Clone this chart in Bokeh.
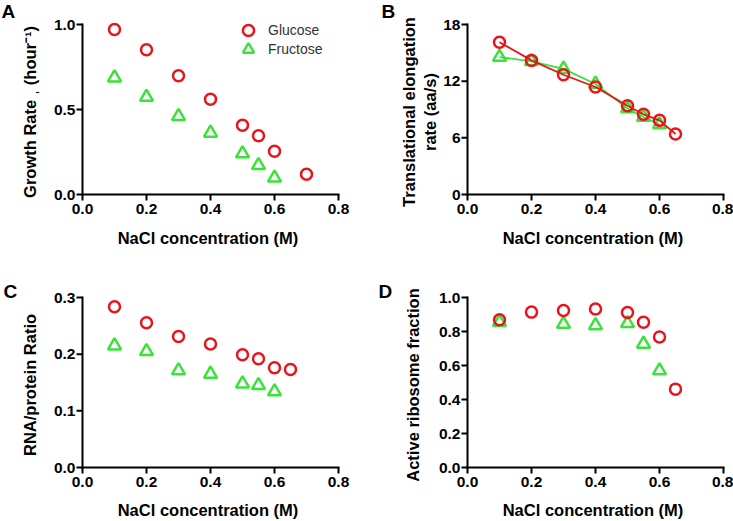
from bokeh.plotting import figure
from bokeh.models import Range1d, FixedTicker, NumeralTickFormatter, Legend, LegendItem
from bokeh.layouts import column, row
from bokeh.embed import file_html
from bokeh.resources import INLINE

# ---------------- data ----------------
conc_glc = [0.1, 0.2, 0.3, 0.4, 0.5, 0.55, 0.6, 0.7]
growth_glc = [0.971, 0.851, 0.699, 0.560, 0.407, 0.346, 0.254, 0.119]
conc_fru = [0.1, 0.2, 0.3, 0.4, 0.5, 0.55, 0.6]
growth_fru = [0.687, 0.573, 0.460, 0.362, 0.241, 0.172, 0.098]

conc_glc_b = [0.1, 0.2, 0.3, 0.4, 0.5, 0.55, 0.6, 0.65]
elong_glc = [16.13, 14.20, 12.68, 11.38, 9.40, 8.49, 7.85, 6.41]
conc_fru_b = [0.1, 0.2, 0.3, 0.4, 0.5, 0.55, 0.6]
elong_fru = [14.55, 14.10, 13.30, 11.70, 9.10, 8.20, 7.40]

conc_glc_c = [0.1, 0.2, 0.3, 0.4, 0.5, 0.55, 0.6, 0.65]
rp_glc = [0.2836, 0.2556, 0.231, 0.218, 0.199, 0.192, 0.176, 0.173]
conc_fru_c = [0.1, 0.2, 0.3, 0.4, 0.5, 0.55, 0.6]
rp_fru = [0.215, 0.205, 0.171, 0.165, 0.148, 0.145, 0.134]

conc_glc_d = [0.1, 0.2, 0.3, 0.4, 0.5, 0.55, 0.6, 0.65]
act_glc = [0.869, 0.914, 0.924, 0.932, 0.912, 0.855, 0.768, 0.461]
conc_fru_d = [0.1, 0.3, 0.4, 0.5, 0.55, 0.6]
act_fru = [0.855, 0.844, 0.836, 0.848, 0.727, 0.570]

x_ticks = [0.0, 0.2, 0.4, 0.6, 0.8]
yticks_a = [0.0, 0.5, 1.0]
yticks_b = [0, 6, 12, 18]
yticks_c = [0.0, 0.1, 0.2, 0.3]
yticks_d = [0.0, 0.2, 0.4, 0.6, 0.8, 1.0]

series_names = ["Glucose", "Fructose"]
panel_letters = ["A", "B", "C", "D"]
x_title = "NaCl concentration (M)"

# ---------------- style ----------------
RED = "#e8141c"
GREEN = "#3ae23a"
FONT = "Liberation Sans"
AX_W = 256          # pixel length of the x axis
AX_H = 170          # pixel length of the y axis
PAD_LB = 7          # frame margin beyond the axis lines (left / bottom)
PAD_TR = 2          # frame margin beyond the axis ends (top / right)
TICK = 6            # tick length, px
HALF = 1            # half of the axis rule thickness, px


def make_fig(width, height, axis_x, axis_top, yticks, yfmt, ylabel,
             y_label_standoff, x_label_standoff, letter, letter_offset, letter_valign,
             letter_standoff):
    xmax = x_ticks[-1]
    ymax = yticks[-1]
    xpx = AX_W / xmax
    ypx = AX_H / ymax
    left = axis_x - PAD_LB
    top = axis_top - PAD_TR
    frame_w = AX_W + PAD_LB + PAD_TR
    frame_h = AX_H + PAD_LB + PAD_TR
    p = figure(width=width, height=height,
               x_range=Range1d(-PAD_LB / xpx, xmax + PAD_TR / xpx),
               y_range=Range1d(-PAD_LB / ypx, ymax + PAD_TR / ypx),
               output_backend="svg", toolbar_location=None, title=letter,
               min_border_left=left, min_border_right=width - left - frame_w,
               min_border_top=top, min_border_bottom=height - top - frame_h)
    p.title.align = "left"
    p.title.offset = letter_offset
    p.title.standoff = letter_standoff
    p.title.vertical_align = letter_valign
    p.title.text_font = FONT
    p.title.text_font_style = "bold"
    p.title.text_font_size = "19px"
    p.title.text_color = "black"
    p.outline_line_color = None
    p.xgrid.grid_line_color = None
    p.ygrid.grid_line_color = None
    p.xaxis.ticker = FixedTicker(ticks=x_ticks)
    p.xaxis.formatter = NumeralTickFormatter(format="0.0")
    p.yaxis.ticker = FixedTicker(ticks=yticks)
    p.yaxis.formatter = NumeralTickFormatter(format=yfmt)
    p.xaxis.axis_label = x_title
    p.yaxis.axis_label = ylabel
    p.axis.axis_line_color = None
    p.axis.major_tick_line_color = None
    p.axis.major_tick_out = 0
    p.axis.major_tick_in = 0
    p.axis.minor_tick_line_color = None
    p.axis.major_label_text_font = FONT
    p.axis.major_label_text_font_style = "bold"
    p.axis.major_label_text_font_size = "15.5px"
    p.axis.major_label_text_color = "black"
    p.axis.axis_label_text_font = FONT
    p.axis.axis_label_text_font_style = "bold"
    p.axis.axis_label_text_font_size = "16.5px"
    p.axis.axis_label_text_color = "black"
    p.xaxis.axis_label_standoff = x_label_standoff
    p.xaxis.major_label_standoff = 2
    p.yaxis.major_label_standoff = 0
    p.yaxis.axis_label_standoff = y_label_standoff

    # axis rules and tick marks as thin filled bars, placed through the plot's own scales
    x0, y0 = x_ticks[0], yticks[0]
    hx, hy = HALF / xpx, HALF / ypx
    p.quad(left=[x0 - hx, x0 - hx], right=[xmax + hx, x0 + hx],
           bottom=[y0 - hy, y0 - hy], top=[y0 + hy, ymax + hy],
           fill_color="black", line_color=None)
    p.quad(left=[t - hx for t in x_ticks], right=[t + hx for t in x_ticks],
           bottom=[y0 - TICK / ypx] * len(x_ticks), top=[y0] * len(x_ticks),
           fill_color="black", line_color=None)
    p.quad(left=[x0 - TICK / xpx] * len(yticks), right=[x0] * len(yticks),
           bottom=[t - hy for t in yticks], top=[t + hy for t in yticks],
           fill_color="black", line_color=None)
    return p


def one_legend(p, label, rend, x, y):
    p.add_layout(Legend(items=[LegendItem(label=label, renderers=[rend])],
                        location=(x, y), padding=0, margin=0, spacing=0,
                        glyph_width=28, glyph_height=28, label_height=28, label_standoff=6,
                        label_text_font=FONT, label_text_font_size="14px",
                        label_text_color="#333333",
                        background_fill_alpha=0, border_line_alpha=0))


MS = 11
TS = 13
LW = 2.5

# Panel A
pa = make_fig(366, 260, 82, 24, yticks_a, "0.0",
              "Growth Rate \u02cc (hour\u207b\u00b9)", 12, 12, panel_letters[0], -74, "top", -2)
ra = pa.scatter(conc_glc, growth_glc, marker="circle", size=MS, fill_color=None,
                line_color=RED, line_width=LW)
fa = pa.scatter(conc_fru, growth_fru, marker="triangle", size=TS, fill_color=None,
                line_color=GREEN, line_width=LW)
one_legend(pa, series_names[0], ra, 159, 157)
one_legend(pa, series_names[1], fa, 159, 138)

# Panel B
pb = make_fig(367, 260, 101, 24, yticks_b, "0",
              "Translational elongation\nrate (aa/s)", 1, 12, panel_letters[1], -79, "top", -2)
pb.line(conc_fru_b, elong_fru, line_color=GREEN, line_width=1.8)
pb.scatter(conc_fru_b, elong_fru, marker="triangle", size=TS, fill_color=None,
           line_color=GREEN, line_width=LW)
pb.line(conc_glc_b, elong_glc, line_color=RED, line_width=1.8)
pb.scatter(conc_glc_b, elong_glc, marker="circle", size=MS, fill_color=None,
           line_color=RED, line_width=LW)

# Panel C
pc = make_fig(366, 261, 82, 37, yticks_c, "0.0",
              "RNA/protein Ratio", 12, 11, panel_letters[2], -72, "bottom", -12)
pc.scatter(conc_glc_c, rp_glc, marker="circle", size=MS, fill_color=None,
           line_color=RED, line_width=LW)
pc.scatter(conc_fru_c, rp_fru, marker="triangle", size=TS, fill_color=None,
           line_color=GREEN, line_width=LW)

# Panel D
pd = make_fig(367, 261, 101, 37, yticks_d, "0.0",
              "Active ribosome fraction", 14, 11, panel_letters[3], -82, "bottom", -12)
pd.scatter(conc_fru_d, act_fru, marker="triangle", size=TS, fill_color=None,
           line_color=GREEN, line_width=LW)
pd.scatter(conc_glc_d, act_glc, marker="circle", size=MS, fill_color=None,
           line_color=RED, line_width=LW)

layout = column(row(pa, pb), row(pc, pd))

open("out.html", "w").write(file_html(layout, INLINE))
